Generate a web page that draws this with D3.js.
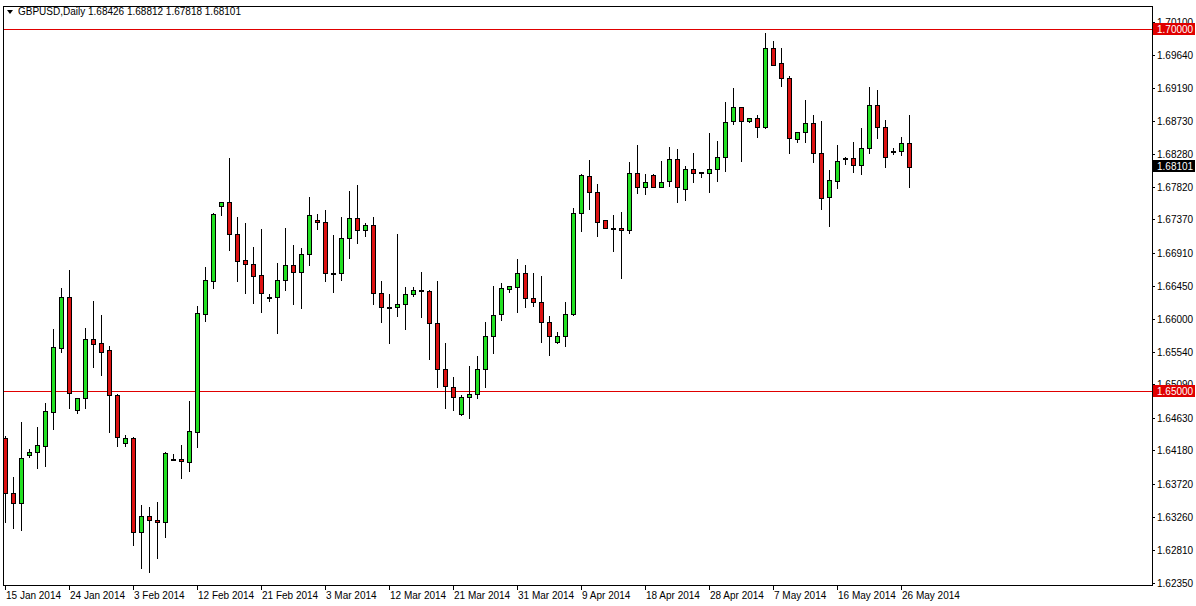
<!DOCTYPE html>
<html>
<head>
<meta charset="utf-8">
<script src="https://cdn.jsdelivr.net/npm/d3@7"></script>
<style>
body { margin: 0; background: #fff; }
text { font-family: "Liberation Sans", Arial, sans-serif; font-size: 10px; }
line, rect { shape-rendering: crispEdges; }
</style>
</head>
<body>
<script>
// OHLC per daily bar (GBPUSD)
var open  = [1.6435,1.6359,1.6345,1.6412,1.6416,1.6423,1.6471,1.6559,1.6630,1.6474,1.6490,1.6572,1.6566,1.6557,1.6495,1.6428,1.6435,1.6305,1.6327,1.6322,
             1.6318,1.6406,1.6406,1.6402,1.6443,1.6606,1.6652,1.6756,1.6761,1.6717,1.6681,1.6675,1.6660,1.6630,1.6630,1.6653,1.6674,1.6664,1.6689,1.6736,
             1.6733,1.6663,1.6663,1.6711,1.6739,1.6722,1.6729,1.6635,1.6616,1.6616,1.6620,1.6635,1.6640,1.6638,1.6594,1.6530,1.6506,1.6468,1.6492,1.6496,
             1.6530,1.6576,1.6606,1.6641,1.6644,1.6663,1.6628,1.6623,1.6595,1.6568,1.6576,1.6606,1.6746,1.6797,1.6775,1.6736,1.6725,1.6725,1.6722,1.6801,
             1.6782,1.6798,1.6782,1.6789,1.6820,1.6780,1.6807,1.6800,1.6801,1.6807,1.6823,1.6872,1.6892,1.6873,1.6877,1.6865,1.6974,1.6953,1.6932,1.6849,
             1.6858,1.6870,1.6829,1.6767,1.6791,1.6822,1.6822,1.6812,1.6836,1.6895,1.6865,1.6831,1.6831,1.68426];
var high  = [1.6438,1.6381,1.6457,1.6420,1.6450,1.6483,1.6586,1.6642,1.6667,1.6490,1.6587,1.6624,1.6605,1.6562,1.6496,1.6439,1.6437,1.6343,1.6340,1.6347,
             1.6416,1.6413,1.6425,1.6486,1.6617,1.6671,1.6746,1.6761,1.6822,1.6740,1.6732,1.6699,1.6724,1.6634,1.6677,1.6725,1.6702,1.6698,1.6768,1.6744,
             1.6750,1.6715,1.6740,1.6776,1.6785,1.6732,1.6740,1.6652,1.6634,1.6717,1.6644,1.6644,1.6664,1.6639,1.6652,1.6566,1.6519,1.6495,1.6535,1.6548,
             1.6595,1.6645,1.6649,1.6645,1.6682,1.6674,1.6663,1.6659,1.6604,1.6582,1.6623,1.6753,1.6800,1.6819,1.6786,1.6736,1.6743,1.6747,1.6816,1.6840,
             1.6800,1.6800,1.6818,1.6837,1.6834,1.6811,1.6829,1.6802,1.6856,1.6845,1.6899,1.6918,1.6892,1.6877,1.6881,1.6994,1.6983,1.6974,1.6935,1.6858,
             1.6902,1.6881,1.6873,1.6805,1.6840,1.6823,1.6844,1.6863,1.6920,1.6916,1.6874,1.6836,1.6851,1.68812];
var low   = [1.6319,1.6311,1.6308,1.6409,1.6394,1.6396,1.6448,1.6554,1.6477,1.6470,1.6477,1.6533,1.6522,1.6443,1.6424,1.6424,1.6287,1.6256,1.6250,1.6269,
             1.6298,1.6405,1.6380,1.6390,1.6423,1.6597,1.6642,1.6743,1.6695,1.6652,1.6635,1.6622,1.6609,1.6624,1.6580,1.6640,1.6620,1.6615,1.6674,1.6724,
             1.6652,1.6637,1.6653,1.6684,1.6704,1.6714,1.6620,1.6595,1.6566,1.6604,1.6586,1.6631,1.6602,1.6544,1.6506,1.6477,1.6474,1.6467,1.6463,1.6490,
             1.6506,1.6553,1.6598,1.6637,1.6609,1.6616,1.6617,1.6568,1.6550,1.6566,1.6562,1.6605,1.6721,1.6751,1.6714,1.6725,1.6693,1.6656,1.6718,1.6773,
             1.6772,1.6782,1.6782,1.6783,1.6761,1.6764,1.6789,1.6796,1.6775,1.6790,1.6804,1.6869,1.6818,1.6872,1.6851,1.6863,1.6950,1.6921,1.6829,1.6844,
             1.6844,1.6816,1.6751,1.6728,1.6780,1.6814,1.6803,1.6800,1.6829,1.6849,1.6810,1.6827,1.6826,1.67818];
var close = [1.6359,1.6345,1.6407,1.6416,1.6425,1.6472,1.6561,1.6630,1.6497,1.6490,1.6572,1.6565,1.6554,1.6495,1.6437,1.6435,1.6305,1.6327,1.6322,1.6319,
             1.6414,1.6405,1.6403,1.6445,1.6608,1.6653,1.6744,1.6761,1.6717,1.6680,1.6675,1.6659,1.6635,1.6629,1.6653,1.6674,1.6664,1.6689,1.6743,1.6733,
             1.6663,1.6663,1.6711,1.6739,1.6722,1.6729,1.6635,1.6616,1.6615,1.6620,1.6634,1.6640,1.6639,1.6594,1.6530,1.6506,1.6492,1.6492,1.6496,1.6530,
             1.6576,1.6605,1.6642,1.6645,1.6663,1.6628,1.6623,1.6595,1.6576,1.6576,1.6606,1.6746,1.6798,1.6775,1.6733,1.6725,1.6724,1.6722,1.6801,1.6782,
             1.6789,1.6782,1.6789,1.6820,1.6782,1.6807,1.6801,1.6802,1.6807,1.6823,1.6872,1.6892,1.6873,1.6877,1.6865,1.6974,1.6950,1.6932,1.6849,1.6858,
             1.6870,1.6829,1.6767,1.6791,1.6818,1.6821,1.6812,1.6836,1.6895,1.6865,1.6823,1.6831,1.6842,1.68101];

var dateLabels = ["15 Jan 2014","24 Jan 2014","3 Feb 2014","12 Feb 2014","21 Feb 2014","3 Mar 2014","12 Mar 2014","21 Mar 2014",
                  "31 Mar 2014","9 Apr 2014","18 Apr 2014","28 Apr 2014","7 May 2014","16 May 2014","26 May 2014"];
var dateIndex = [0,8,16,24,32,40,48,56,64,72,80,88,96,104,112];
var priceTicks = [1.70100,1.69640,1.69190,1.68730,1.68280,1.67820,1.67370,1.66910,1.66450,1.66000,1.65540,1.65090,1.64630,1.64180,1.63720,1.63260,1.62810,1.62350];
var levels = [1.70000, 1.65000];

var width = 1196, height = 606;
var frameL = 3, frameR = 1152, frameT = 6, frameB = 585;

var svg = d3.select("body").append("svg")
  .attr("width", width).attr("height", height);

var x = d3.scaleLinear().domain([0, 113]).range([5, 909]);
var y = d3.scaleLinear().domain([1.6232, 1.70318]).range([frameB, frameT]);
var px = function(v) { return Math.round(v) + 0.5; };

// frame
svg.append("rect").attr("x", frameL + 0.5).attr("y", frameT + 0.5)
  .attr("width", frameR - frameL).attr("height", frameB - frameT)
  .attr("fill", "#fff").attr("stroke", "#000");

// horizontal levels (drawn as thin filled rects so the red stays solid)
svg.append("g").selectAll("rect").data(levels).enter().append("rect")
  .attr("x", frameL + 1).attr("width", frameR - frameL - 1)
  .attr("y", function(d) { return Math.round(y(d)); }).attr("height", 1)
  .attr("fill", "#e00000");

// candles
var bars = d3.range(close.length);
var g = svg.append("g");
g.selectAll("line.wick").data(bars).enter().append("line")
  .attr("x1", function(i) { return px(x(i)); }).attr("x2", function(i) { return px(x(i)); })
  .attr("y1", function(i) { return Math.round(y(high[i])); })
  .attr("y2", function(i) { return Math.round(y(low[i])) + 1; })
  .attr("stroke", "#000");
g.selectAll("rect.body").data(bars).enter().append("rect")
  .attr("x", function(i) { return Math.round(x(i)) - 2 + 0.5; })
  .attr("y", function(i) { return Math.round(y(Math.max(open[i], close[i]))) + 0.5; })
  .attr("width", 4)
  .attr("height", function(i) { return Math.max(1, Math.round(Math.abs(y(open[i]) - y(close[i])))); })
  .attr("fill", function(i) { return close[i] >= open[i] ? "#22e022" : "#dd1111"; })
  .attr("stroke", "#000");

// price axis
var ya = svg.append("g");
ya.selectAll("line").data(priceTicks).enter().append("line")
  .attr("x1", frameR).attr("x2", frameR + 3)
  .attr("y1", function(d) { return px(y(d)); }).attr("y2", function(d) { return px(y(d)); })
  .attr("stroke", "#000");
ya.selectAll("text").data(priceTicks).enter().append("text")
  .attr("x", frameR + 5).attr("y", function(d) { return y(d) + 4; })
  .text(function(d) { return d.toFixed(5); });

// level and price tags
var tags = levels.map(function(v) { return { v: v, fill: "#e00000" }; })
  .concat([{ v: close[close.length - 1], fill: "#000" }]);
var tg = svg.selectAll("g.tag").data(tags).enter().append("g")
  .attr("class", "tag")
  .attr("transform", function(d) { return "translate(" + (frameR + 1) + "," + Math.round(y(d.v)) + ")"; });
tg.append("rect").attr("x", 0).attr("y", -6).attr("width", 42).attr("height", 12).attr("fill", function(d) { return d.fill; });
tg.append("text").attr("x", 4).attr("y", 4).attr("fill", "#fff").text(function(d) { return d.v.toFixed(5); });

// date axis
var xa = svg.append("g");
xa.selectAll("line").data(dateIndex).enter().append("line")
  .attr("x1", function(i) { return px(x(i)); }).attr("x2", function(i) { return px(x(i)); })
  .attr("y1", frameB).attr("y2", frameB + 5)
  .attr("stroke", "#000");
xa.selectAll("text").data(dateIndex).enter().append("text")
  .attr("x", function(i) { return x(i) + 1; }).attr("y", frameB + 14)
  .text(function(i, k) { return dateLabels[k]; });

// header
svg.append("path").attr("d", "M7,10 L13,10 L10,14 Z").attr("fill", "#000");
svg.append("text").attr("x", 18).attr("y", 15)
  .text("GBPUSD,Daily  1.68426 1.68812 1.67818 1.68101");
</script>
</body>
</html>
